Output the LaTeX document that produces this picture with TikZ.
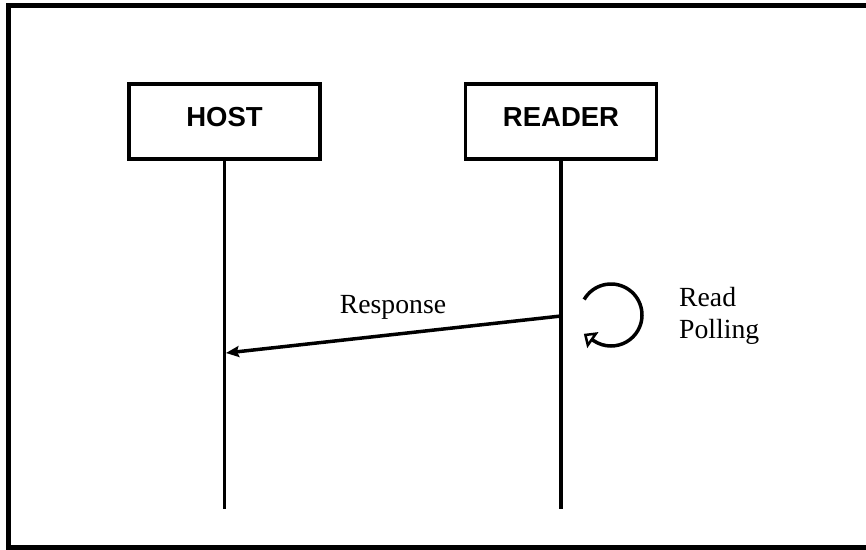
\documentclass[tikz,border=0pt]{standalone}
\usepackage{fontspec}
\setmainfont{Liberation Serif}
\newfontfamily\arialbold{Liberation Sans}[BoldFont={Liberation Sans Bold}]
\usetikzlibrary{positioning}
\usetikzlibrary{calc}
\usetikzlibrary{arrows.meta}

\begin{document}
\begin{tikzpicture}[x=1pt,y=1pt,
  actor/.style={draw,line width=3.5pt,minimum width=191pt,minimum height=75pt,inner sep=0pt,
    text height=20pt,text depth=11pt,font=\arialbold\bfseries\fontsize{27.5}{33}\selectfont},
  life/.style={line width=3.5pt},
  msg/.style={line width=3.5pt},
  lbl/.style={inner sep=0pt,font=\fontsize{27.7}{32.3}\selectfont}]
\useasboundingbox (0,0) rectangle (866,-549);
\clip (0,0) rectangle (866,-549);
\draw[line width=5.5pt] (8.5,-5.5) rectangle (880,-548);
\node[actor] (host) at (224.5,-121.7) {HOST};
\node[actor] (reader) at (561,-121.7) {READER};
\coordinate (host-end) at (224.5,-509);
\coordinate (reader-end) at (561,-509);
\draw[life] (host.south) -- (host-end);
\draw[life] (reader.south) -- (reader-end);
\coordinate (resp-out) at (561,-316);
\coordinate (resp-in) at (226,-353);
\path[msg,-{Stealth[length=13pt,width=11pt,inset=2pt]}] (resp-out) edge (resp-in);
\node[lbl,anchor=base] (resp) at (393,-313) {Response};
% self loop on the reader
\draw[msg,-{Triangle[open,length=11pt,width=19pt,line width=2.5pt]}] (611,-315) ++(150:31)
  arc[start angle=150,end angle=-124,radius=31] -- ++(145:12);
\node[lbl,anchor=north west,align=left] (poll) at (679,-287) {Read\\Polling};
\end{tikzpicture}
\end{document}
